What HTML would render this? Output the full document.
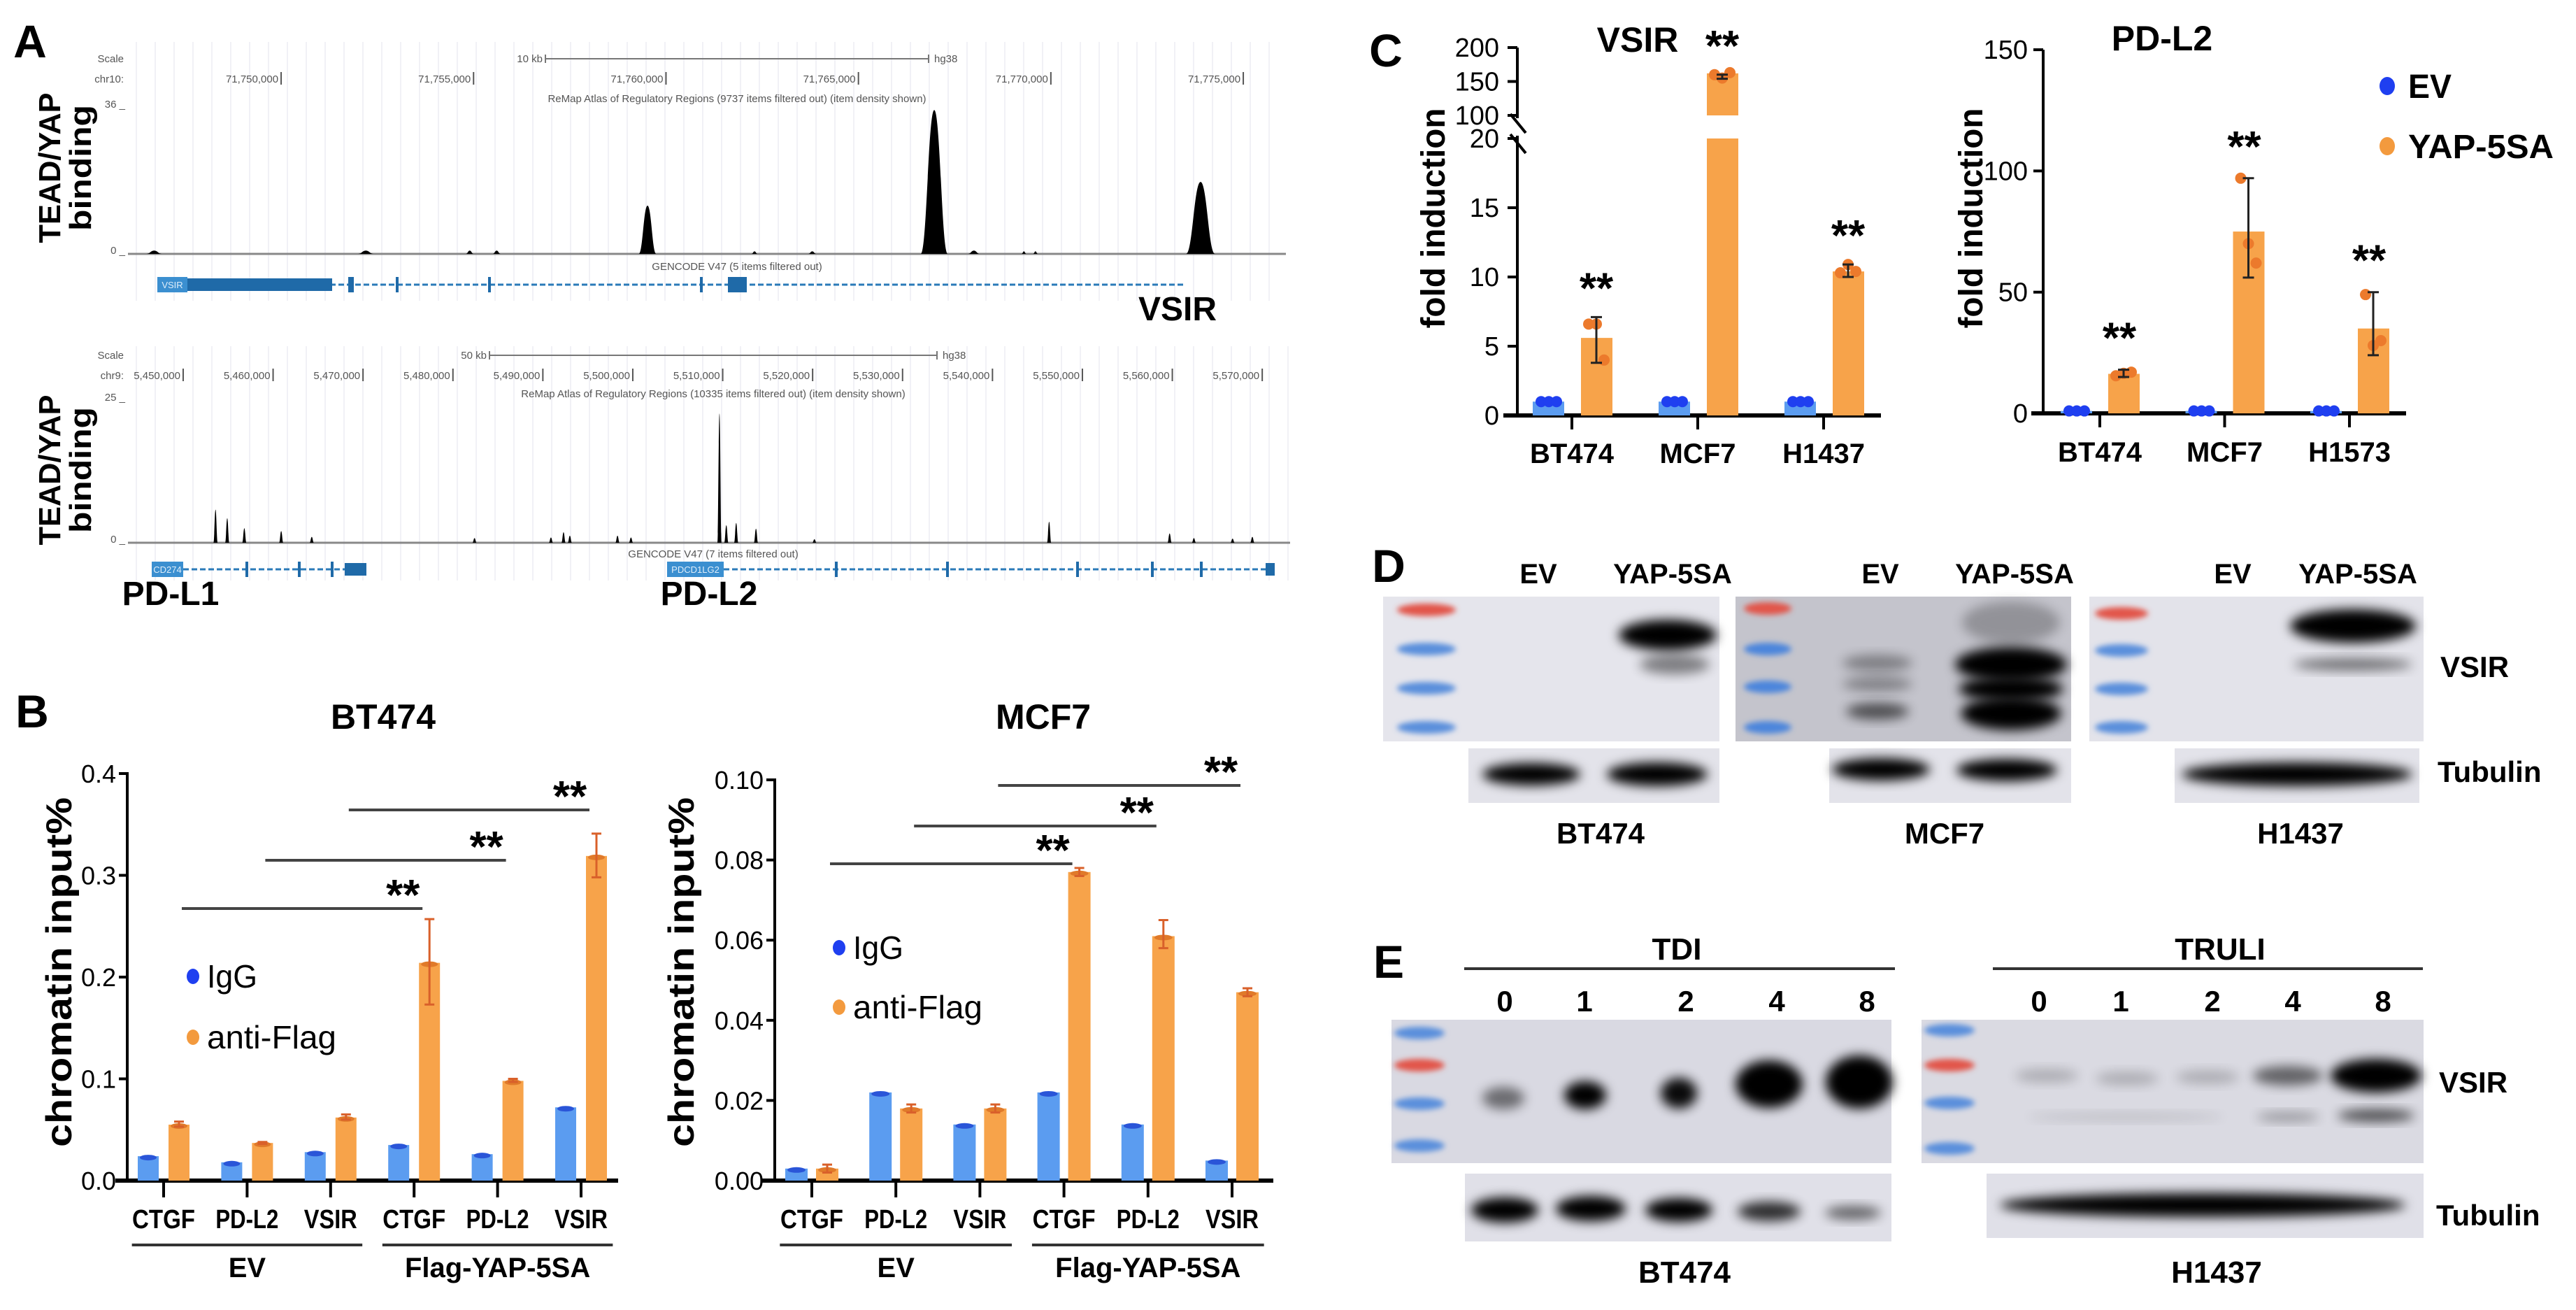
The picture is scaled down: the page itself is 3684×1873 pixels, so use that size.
<!DOCTYPE html>
<html><head><meta charset="utf-8"><style>
html,body{margin:0;padding:0;background:#fff;}
svg{display:block;font-family:"Liberation Sans",sans-serif;}
</style></head><body>
<svg id="fig" width="3684" height="1873" viewBox="0 0 3684 1873" xmlns="http://www.w3.org/2000/svg">
<defs>
<filter id="bl" x="-50%" y="-50%" width="200%" height="200%"><feGaussianBlur stdDeviation="8"/></filter>
<filter id="bl2" x="-50%" y="-50%" width="200%" height="200%"><feGaussianBlur stdDeviation="4"/></filter>
</defs>
</svg>
<script>
// ===== Data =====
// Panel A: genome tracks (genomic positions in kb, heights in track units)
const vsirPeakPosKb = [71759.52, 71766.97, 71773.89, 71746.7, 71752.2, 71754.9, 71755.6, 71762.3, 71763.8, 71768.0, 71769.3, 71769.6];
const vsirPeakHeight = [11.6, 34.6, 17.3, 0.8, 0.8, 0.8, 0.8, 0.6, 0.6, 0.8, 0.6, 0.6];
const vsirPeakWidthKb = [0.45, 0.7, 0.75, 0.4, 0.4, 0.2, 0.2, 0.15, 0.2, 0.3, 0.12, 0.12];
const vsirTickLabels = ['71,750,000','71,755,000','71,760,000','71,765,000','71,770,000','71,775,000'];
const vsirTickKb = [71750, 71755, 71760, 71765, 71770, 71775];
const pdPeakPosKb = [5453.6, 5454.9, 5456.8, 5460.9, 5464.3, 5482.4, 5490.9, 5492.3, 5493.0, 5498.3, 5499.8, 5509.64, 5510.4, 5511.5, 5513.7, 5520.2, 5546.3, 5559.7, 5562.4, 5566.7, 5568.9];
const pdPeakHeight = [5.7, 4.2, 2.5, 2.0, 1.0, 0.8, 0.9, 1.8, 1.2, 1.2, 0.9, 22.2, 3.0, 3.4, 2.4, 0.6, 3.6, 1.6, 0.8, 0.7, 1.0];
const pdTickLabels = ['5,450,000','5,460,000','5,470,000','5,480,000','5,490,000','5,500,000','5,510,000','5,520,000','5,530,000','5,540,000','5,550,000','5,560,000','5,570,000'];
const pdTickKb = [5450,5460,5470,5480,5490,5500,5510,5520,5530,5540,5550,5560,5570];

// Panel B: ChIP-qPCR
const chipCats = ['CTGF','PD-L2','VSIR','CTGF','PD-L2','VSIR'];
const chipGroups = ['EV','Flag-YAP-5SA'];
const bt474IgG = [0.024, 0.018, 0.028, 0.035, 0.026, 0.072];
const bt474Flag = [0.055, 0.037, 0.062, 0.214, 0.098, 0.319];
const bt474FlagLo = [0.053, 0.036, 0.060, 0.173, 0.097, 0.298];
const bt474FlagHi = [0.058, 0.038, 0.065, 0.257, 0.100, 0.341];
const bt474Ticks = [0, 0.1, 0.2, 0.3, 0.4];
const bt474TickLabels = ['0.0','0.1','0.2','0.3','0.4'];
const mcf7IgG = [0.003, 0.022, 0.014, 0.022, 0.014, 0.005];
const mcf7Flag = [0.003, 0.018, 0.018, 0.077, 0.061, 0.047];
const mcf7FlagLo = [0.002, 0.017, 0.017, 0.076, 0.058, 0.046];
const mcf7FlagHi = [0.004, 0.019, 0.019, 0.078, 0.065, 0.048];
const mcf7Ticks = [0, 0.02, 0.04, 0.06, 0.08, 0.10];
const mcf7TickLabels = ['0.00','0.02','0.04','0.06','0.08','0.10'];

// Panel C: fold induction
const vsirCats = ['BT474','MCF7','H1437'];
const vsirEV = [1, 1, 1];
const vsirYAP = [5.6, 162, 10.4];
const vsirYAPLo = [3.8, 154, 10.0];
const vsirYAPHi = [7.1, 160, 10.9];
const vsirYAPReps = [[6.6, 6.6, 4.0], [160, 155, 163], [10.3, 10.9, 10.4]];
const vsirLowTicks = [0, 5, 10, 15, 20];
const vsirHighTicks = [100, 150, 200];
const pdl2Cats = ['BT474','MCF7','H1573'];
const pdl2EV = [1, 1, 1];
const pdl2YAP = [16.3, 75, 35];
const pdl2YAPLo = [15, 56, 24];
const pdl2YAPHi = [18, 97, 50];
const pdl2YAPReps = [[15.5, 16.5, 17], [97, 70, 62], [49, 28, 30]];
const pdl2Ticks = [0, 50, 100, 150];

// ===== Helpers =====
const NS = 'http://www.w3.org/2000/svg';
const svg = document.getElementById('fig');
function mk(tag, a, p) { const e = document.createElementNS(NS, tag); for (const k in a) e.setAttribute(k, a[k]); (p || svg).appendChild(e); return e; }
function tx(str, a, p) { const e = mk('text', a, p); e.textContent = str; return e; }
function grp(name, p) { const g = mk('g', {}, p);   return g; }
const BLUE_BAR = '#5b9cf0', ORANGE_BAR = '#f7a34a', BLUE_DOT = '#1f3ff0', ORANGE_DOT = '#ec7a2c';

// ===== Panel letters =====
[['A',43,82],['B',46,1040],['C',1982,95],['D',1986,832],['E',1986,1398]].forEach(d => {
  const t = tx(d[0], {x: d[1], y: d[2], 'font-size': 66, 'font-weight': 'bold', 'text-anchor': 'middle'});
  
  
});

// ===== Panel A =====
function genomeTrack(o) {
  const g = grp(o.name);
  // faint vertical grid
  for (let x = o.x0 + 12; x < o.x1; x += 27) {
    const l = mk('line', {x1: x, x2: x, y1: o.gridTop, y2: o.gridBot, stroke: '#f1f1f6', 'stroke-width': 2}, g);
    
    
  }
  const xs = kb => o.x0 + (kb - o.kb0) * o.pxPerKb;
  const ys = v => o.base - v / o.ymax * (o.base - o.top);
  const small = {fill: '#555', 'font-size': 15};
  let t = tx('Scale', Object.assign({x: o.x0 - 6, y: o.scaleY + 5, 'text-anchor': 'end'}, small), g);
   
  t = tx(o.chr, Object.assign({x: o.x0 - 6, y: o.chrY + 5, 'text-anchor': 'end'}, small), g);
   
  t = tx(String(o.ymax) + ' _', Object.assign({x: o.x0 - 4, y: o.top + 5, 'text-anchor': 'end'}, small), g);
   
  t = tx('0 _', Object.assign({x: o.x0 - 4, y: o.base, 'text-anchor': 'end'}, small), g);
   
  // scale bar
  const sb = mk('path', {d: `M${o.sb0},${o.scaleY-6}V${o.scaleY+6}M${o.sb0},${o.scaleY}H${o.sb1}M${o.sb1},${o.scaleY-6}V${o.scaleY+6}`, stroke: '#777', 'stroke-width': 2, fill: 'none'}, g);
   
  t = tx(o.sbLabel, Object.assign({x: o.sb0 - 4, y: o.scaleY + 5, 'text-anchor': 'end'}, small), g);
   
  t = tx('hg38', Object.assign({x: o.sb1 + 8, y: o.scaleY + 5}, small), g);
   
  o.tickKb.forEach((kb, i) => {
    const x = xs(kb);
    const tk = mk('line', {x1: x, x2: x, y1: o.chrY - 10, y2: o.chrY + 8, stroke: '#555', 'stroke-width': 2}, g);
     
    const tl = tx(o.tickLabels[i], Object.assign({x: x - 4, y: o.chrY + 5, 'text-anchor': 'end'}, small), g);
     
  });
  t = tx(o.remap, Object.assign({x: o.labelX, y: o.remapY + 5, 'text-anchor': 'middle'}, small), g);
   
  // baseline
  const bl = mk('line', {x1: o.x0, x2: o.x1, y1: o.base, y2: o.base, stroke: '#888', 'stroke-width': 3}, g);
   
  // peaks
  o.pos.forEach((kb, i) => {
    const cx = xs(kb), h = ys(o.h[i]);
    const w = Math.max(3, (o.w ? o.w[i] : 0.12) * o.pxPerKb / 2);
    const p = mk('path', {d: `M${cx-w},${o.base} C${cx-w*0.55},${o.base} ${cx-w*0.45},${h} ${cx},${h} C${cx+w*0.45},${h} ${cx+w*0.55},${o.base} ${cx+w},${o.base} Z`, fill: '#000'}, g);
     
  });
  t = tx('GENCODE V47 (' + o.gencode + ')', Object.assign({x: o.labelX, y: o.gencodeY + 5, 'text-anchor': 'middle'}, small), g);
   
  return g;
}
const trackTop = genomeTrack({name: 'vsir-track', x0: 183, x1: 1839, kb0: 71746.02, pxPerKb: 55.04, base: 363, top: 149, ymax: 36,
  gridTop: 60, gridBot: 430, scaleY: 84, chrY: 113, remapY: 141, gencodeY: 381, labelX: 1054, chr: 'chr10:', sb0: 780, sb1: 1328, sbLabel: '10 kb',
  tickKb: vsirTickKb, tickLabels: vsirTickLabels, remap: 'ReMap Atlas of Regulatory Regions (9737 items filtered out) (item density shown)',
  gencode: '5 items filtered out', pos: vsirPeakPosKb, h: vsirPeakHeight, w: vsirPeakWidthKb});
const trackBot = genomeTrack({name: 'pdl-track', x0: 183, x1: 1845, kb0: 5443.86, pxPerKb: 12.86, base: 776, top: 568, ymax: 25,
  gridTop: 495, gridBot: 830, scaleY: 508, chrY: 537, remapY: 563, gencodeY: 792, labelX: 1020, chr: 'chr9:', sb0: 700, sb1: 1340, sbLabel: '50 kb',
  tickKb: pdTickKb, tickLabels: pdTickLabels, remap: 'ReMap Atlas of Regulatory Regions (10335 items filtered out) (item density shown)',
  gencode: '7 items filtered out', pos: pdPeakPosKb, h: pdPeakHeight, w: null});

// gene models
function gene(name, y, x0, x1, boxes, ticks, label, lx, lw) {
  const g = grp(name);
  const ln = mk('line', {x1: x0, x2: x1, y1: y, y2: y, stroke: '#2a7ab8', 'stroke-width': 3, 'stroke-dasharray': '8 4'}, g);
   
  boxes.forEach(b => {
    const r = mk('rect', {x: b[0], y: y - b[2] / 2, width: b[1] - b[0], height: b[2], fill: '#1f6aa8'}, g);
     
  });
  ticks.forEach(x => {
    const r = mk('rect', {x: x - 2, y: y - 11, width: 4, height: 22, fill: '#1f6aa8'}, g);
     
  });
  const lb = mk('rect', {x: lx, y: y - 11, width: lw, height: 22, fill: '#3b8fd0'}, g);
   
  const t = tx(label, {x: lx + lw / 2, y: y + 5, 'font-size': 13, fill: '#dfeefa', 'text-anchor': 'middle'}, g);
   
}
gene('vsir-gene-model', 407, 268, 1693, [[268,475,18],[498,506,22],[1041,1068,22]], [568, 700, 1003], 'VSIR', 225, 43);
gene('cd274-gene-model', 814, 262, 524, [[493,524,18]], [353, 428, 475], 'CD274', 217, 45);
gene('pdcd1lg2-gene-model', 814, 1035, 1821, [[1810,1823,18]], [1196, 1355, 1541, 1648, 1718], 'PDCD1LG2', 954, 81);

[['VSIR',1684,458,'gene-label-vsir'],['PD-L1',244,865,'gene-label-pdl1'],['PD-L2',1014,865,'gene-label-pdl2']].forEach(d => {
  const t = tx(d[0], {x: d[1], y: d[2], 'font-size': 48, 'font-weight': 'bold', 'text-anchor': 'middle'});
   
});
[[240,'tead-yap-axis-title-top'],[672,'tead-yap-axis-title-bottom']].forEach(d => {
  const g = mk('g', {transform: `translate(0,${d[0]}) rotate(-90)`});
   
  let t = tx('TEAD/YAP', {x: 0, y: 86, 'font-size': 44, 'font-weight': 'bold', 'text-anchor': 'middle', textLength: 215, lengthAdjust: 'spacingAndGlyphs'}, g);
   
  t = tx('binding', {x: 0, y: 130, 'font-size': 44, 'font-weight': 'bold', 'text-anchor': 'middle', textLength: 180, lengthAdjust: 'spacingAndGlyphs'}, g);
   
});

// ===== Panel B =====
function chipChart(o) {
  const g = grp(o.name);
  const ys = v => o.y0 - v / o.ymax * (o.y0 - o.yTop);
  const xc = i => o.cx0 + i * o.step;
  let t = tx(o.title, {x: o.titleX, y: 1042, 'font-size': 50, 'font-weight': 'bold', 'text-anchor': 'middle'}, g);
   
  const ax = mk('line', {x1: o.ax, x2: o.ax, y1: ys(o.ticks[o.ticks.length-1]) - 2, y2: o.y0, stroke: '#000', 'stroke-width': 4}, g);
   
  o.ticks.forEach((v, i) => {
    const y = ys(v);
    const tk = mk('line', {x1: o.ax - 12, x2: o.ax, y1: y, y2: y, stroke: '#000', 'stroke-width': 4}, g);
     
    const tl = tx(o.tickLabels[i], {x: o.ax - 16, y: y + 13, 'font-size': 36, 'text-anchor': 'end'}, g);
     
  });
  const xa = mk('line', {x1: o.xa0, x2: o.xa1, y1: o.y0, y2: o.y0, stroke: '#000', 'stroke-width': 6}, g);
   
  o.cats.forEach((c, i) => {
    const x = xc(i);
    const tk = mk('line', {x1: x, x2: x, y1: o.y0, y2: o.y0 + 24, stroke: '#000', 'stroke-width': 4}, g);
     
    const tl = tx(c, {x: x, y: 1756, 'font-size': 38, 'font-weight': 'bold', 'text-anchor': 'middle', textLength: c === 'VSIR' ? 76 : 90, lengthAdjust: 'spacingAndGlyphs'}, g);
     
    // IgG bar
    const yi = ys(o.igg[i]);
    const b1 = mk('rect', {x: x - o.off - o.bw / 2, y: yi, width: o.bw, height: o.y0 - yi, fill: BLUE_BAR}, g);
     
    const d1 = mk('ellipse', {cx: x - o.off, cy: yi + 2, rx: o.bw / 2 - 3, ry: 4, fill: '#2a55d8'}, g);
     
    // Flag bar
    const yf = ys(o.flag[i]);
    const b2 = mk('rect', {x: x + o.off - o.bw / 2, y: yf, width: o.bw, height: o.y0 - yf, fill: ORANGE_BAR}, g);
     
    const d2 = mk('ellipse', {cx: x + o.off, cy: yf + 2, rx: o.bw / 2 - 3, ry: 4, fill: '#e07a2a'}, g);
     
    const eb = mk('path', {d: `M${x+o.off},${ys(o.lo[i])}V${ys(o.hi[i])}M${x+o.off-7},${ys(o.hi[i])}H${x+o.off+7}M${x+o.off-7},${ys(o.lo[i])}H${x+o.off+7}`, stroke: '#d9602a', 'stroke-width': 3, fill: 'none'}, g);
     
  });
  // group brackets
  chipGroups.forEach((gn, k) => {
    const xa = xc(k * 3) - o.step * 0.38, xb = xc(k * 3 + 2) + o.step * 0.38;
    const l = mk('line', {x1: xa, x2: xb, y1: 1780, y2: 1780, stroke: '#333', 'stroke-width': 4}, g);
     
    const tl = tx(gn, {x: (xa + xb) / 2, y: 1826, 'font-size': 40, 'font-weight': 'bold', 'text-anchor': 'middle'}, g);
     
  });
  // significance lines
  o.sigY.forEach((y, k) => {
    const xa = xc(k) + 26, xb = xc(k + 3) + 12;
    const l = mk('line', {x1: xa, x2: xb, y1: y, y2: y, stroke: '#444', 'stroke-width': 4}, g);
     
    const s = tx('**', {x: xb - 28, y: y + 2, 'font-size': 62, 'font-weight': 'bold', 'text-anchor': 'middle'}, g);
     
  });
  // legend
  [[BLUE_DOT, 'IgG', o.legY[0], 'legend-igg'], ['#f39a3e', 'anti-Flag', o.legY[1], 'legend-anti-flag']].forEach(d => {
    const lg = grp(d[3], g);
    const c = mk('ellipse', {cx: o.legX, cy: d[2], rx: 9, ry: 11, fill: d[0]}, lg);
     
    const tl = tx(d[1], {x: o.legX + 20, y: d[2] + 16, 'font-size': 46, textLength: d[1] === 'IgG' ? 72 : 185, lengthAdjust: 'spacingAndGlyphs'}, lg);
     
  });
  const yl = tx('chromatin input%', {x: 0, y: 0, 'font-size': 52, 'font-weight': 'bold', 'text-anchor': 'middle', textLength: 500, lengthAdjust: 'spacingAndGlyphs', transform: `translate(${o.ylx},1390) rotate(-90)`}, g);
   
}
chipChart({name: 'chip-chart-bt474', title: 'BT474', titleX: 548, ax: 182, y0: 1688, yTop: 1106, ymax: 0.4, ticks: bt474Ticks, tickLabels: bt474TickLabels,
  xa0: 165, xa1: 884, cx0: 234, step: 119.4, off: 22, bw: 30, cats: chipCats, igg: bt474IgG, flag: bt474Flag, lo: bt474FlagLo, hi: bt474FlagHi,
  sigY: [1299, 1230, 1158], legX: 276, legY: [1396, 1483], ylx: 102});
chipChart({name: 'chip-chart-mcf7', title: 'MCF7', titleX: 1492, ax: 1108, y0: 1688, yTop: 1115, ymax: 0.10, ticks: mcf7Ticks, tickLabels: mcf7TickLabels,
  xa0: 1090, xa1: 1821, cx0: 1161, step: 120.2, off: 22, bw: 32, cats: chipCats, igg: mcf7IgG, flag: mcf7Flag, lo: mcf7FlagLo, hi: mcf7FlagHi,
  sigY: [1235, 1181, 1123], legX: 1200, legY: [1355, 1440], ylx: 992});

// ===== Panel C =====
function drawPoints(g, x, vals, ys, color, name) {
  vals.forEach((v, k) => {
    const c = mk('circle', {cx: x + (k - 1) * 11, cy: ys(v), r: 8, fill: color}, g);
     
  });
}
// VSIR broken axis
(function () {
  const g = grp('fold-chart-vsir');
  const y0 = 594;
  const ys = v => v <= 20 ? y0 - v * 19.8 : 165 - (v - 100) * 0.97;
  const xc = i => 2248 + i * 180;
  let t = tx('VSIR', {x: 2342, y: 74, 'font-size': 50, 'font-weight': 'bold', 'text-anchor': 'middle'}, g);
   
  let a = mk('line', {x1: 2170, x2: 2170, y1: ys(20) - 4, y2: y0, stroke: '#000', 'stroke-width': 4}, g);
   
  a = mk('line', {x1: 2170, x2: 2170, y1: ys(200), y2: ys(100) + 4, stroke: '#000', 'stroke-width': 4}, g);
   
  a = mk('path', {d: 'M2160,163 L2182,190 M2160,192 L2182,219', stroke: '#000', 'stroke-width': 4, fill: 'none'}, g);
   
  vsirLowTicks.concat(vsirHighTicks).forEach(v => {
    const y = ys(v);
    const tk = mk('line', {x1: 2156, x2: 2170, y1: y, y2: y, stroke: '#000', 'stroke-width': 4}, g);
     
    const tl = tx(String(v), {x: 2144, y: y + 13, 'font-size': 38, 'text-anchor': 'end'}, g);
     
  });
  a = mk('line', {x1: 2150, x2: 2690, y1: y0, y2: y0, stroke: '#000', 'stroke-width': 6}, g);
   
  vsirCats.forEach((c, i) => {
    const x = xc(i);
    const tk = mk('line', {x1: x, x2: x, y1: y0, y2: y0 + 20, stroke: '#000', 'stroke-width': 4}, g);
     
    const tl = tx(c, {x: x, y: 662, 'font-size': 40, 'font-weight': 'bold', 'text-anchor': 'middle'}, g);
     
    const ye = ys(vsirEV[i]);
    const be = mk('rect', {x: x - 56, y: ye, width: 45, height: y0 - ye, fill: BLUE_BAR}, g);
     
    drawPoints(g, x - 33, [vsirEV[i], vsirEV[i], vsirEV[i]], ys, BLUE_DOT, 'ev-point');
    const v = vsirYAP[i], bx = x + 13;
    if (v > 20) {
      const r1 = mk('rect', {x: bx, y: ys(20), width: 45, height: y0 - ys(20), fill: ORANGE_BAR}, g);
       
      const r2 = mk('rect', {x: bx, y: ys(v), width: 45, height: ys(100) - ys(v), fill: ORANGE_BAR}, g);
       
    } else {
      const r = mk('rect', {x: bx, y: ys(v), width: 45, height: y0 - ys(v), fill: ORANGE_BAR}, g);
       
    }
    drawPoints(g, bx + 22, vsirYAPReps[i], ys, ORANGE_DOT, 'yap-point');
    const ex = bx + 22;
    const eb = mk('path', {d: `M${ex},${ys(vsirYAPLo[i])}V${ys(vsirYAPHi[i])}M${ex-8},${ys(vsirYAPHi[i])}H${ex+8}M${ex-8},${ys(vsirYAPLo[i])}H${ex+8}`, stroke: '#222', 'stroke-width': 3, fill: 'none'}, g);
     
    const s = tx('**', {x: ex, y: ys(vsirYAPHi[i]) - 20, 'font-size': 62, 'font-weight': 'bold', 'text-anchor': 'middle'}, g);
     
  });
  const yl = tx('fold induction', {x: 0, y: 0, 'font-size': 48, 'font-weight': 'bold', 'text-anchor': 'middle', textLength: 315, lengthAdjust: 'spacingAndGlyphs', transform: 'translate(2066,312) rotate(-90)'}, g);
   
})();
// PD-L2
(function () {
  const g = grp('fold-chart-pdl2');
  const y0 = 591;
  const ys = v => y0 - v * 3.466;
  const xc = i => 3003 + i * 178.5;
  let t = tx('PD-L2', {x: 3092, y: 72, 'font-size': 50, 'font-weight': 'bold', 'text-anchor': 'middle'}, g);
   
  let a = mk('line', {x1: 2922, x2: 2922, y1: ys(150), y2: y0, stroke: '#000', 'stroke-width': 4}, g);
   
  pdl2Ticks.forEach(v => {
    const y = ys(v);
    const tk = mk('line', {x1: 2908, x2: 2922, y1: y, y2: y, stroke: '#000', 'stroke-width': 4}, g);
     
    const tl = tx(String(v), {x: 2900, y: y + 13, 'font-size': 38, 'text-anchor': 'end'}, g);
     
  });
  a = mk('line', {x1: 2905, x2: 3441, y1: y0, y2: y0, stroke: '#000', 'stroke-width': 6}, g);
   
  pdl2Cats.forEach((c, i) => {
    const x = xc(i);
    const tk = mk('line', {x1: x, x2: x, y1: y0, y2: y0 + 20, stroke: '#000', 'stroke-width': 4}, g);
     
    const tl = tx(c, {x: x, y: 660, 'font-size': 40, 'font-weight': 'bold', 'text-anchor': 'middle'}, g);
     
    const ye = ys(pdl2EV[i]);
    const be = mk('rect', {x: x - 56, y: ye, width: 45, height: y0 - ye, fill: BLUE_BAR}, g);
     
    drawPoints(g, x - 33, [pdl2EV[i], pdl2EV[i], pdl2EV[i]], ys, BLUE_DOT, 'ev-point');
    const bx = x + 12, yv = ys(pdl2YAP[i]);
    const r = mk('rect', {x: bx, y: yv, width: 45, height: y0 - yv, fill: ORANGE_BAR}, g);
     
    const ex = bx + 22;
    drawPoints(g, ex, pdl2YAPReps[i], ys, ORANGE_DOT, 'yap-point');
    const eb = mk('path', {d: `M${ex},${ys(pdl2YAPLo[i])}V${ys(pdl2YAPHi[i])}M${ex-8},${ys(pdl2YAPHi[i])}H${ex+8}M${ex-8},${ys(pdl2YAPLo[i])}H${ex+8}`, stroke: '#222', 'stroke-width': 3, fill: 'none'}, g);
     
    const s = tx('**', {x: ex - 6, y: ys(pdl2YAPHi[i]) - 24, 'font-size': 62, 'font-weight': 'bold', 'text-anchor': 'middle'}, g);
     
  });
  [[BLUE_DOT, 'EV', 123, 'legend-ev'], ['#f39a3e', 'YAP-5SA', 209, 'legend-yap-5sa']].forEach(d => {
    const lg = grp(d[3], g);
    const c = mk('ellipse', {cx: 3414, cy: d[2], rx: 11, ry: 13, fill: d[0]}, lg);
     
    const tl = tx(d[1], {x: 3444, y: d[2] + 17, 'font-size': 48, 'font-weight': 'bold', textLength: d[1] === 'EV' ? 62 : 208, lengthAdjust: 'spacingAndGlyphs'}, lg);
     
  });
  const yl = tx('fold induction', {x: 0, y: 0, 'font-size': 48, 'font-weight': 'bold', 'text-anchor': 'middle', textLength: 315, lengthAdjust: 'spacingAndGlyphs', transform: 'translate(2835,312) rotate(-90)'}, g);
   
})();

// ===== Blots (D, E) =====
function blotBox(name, x, y, w, h, fill, p) {
  const r = mk('rect', {x: x, y: y, width: w, height: h, fill: fill}, p);
   
  return r;
}
function band(cx, cy, rx, ry, op, p, name, blur) {
  const e = mk('ellipse', {cx: cx, cy: cy, rx: rx, ry: ry, fill: '#000', opacity: op, filter: blur || 'url(#bl)'}, p);
   
}
function ladder(x, w, ys, colors, p) {
  ys.forEach((y, i) => {
    const e = mk('ellipse', {cx: x, cy: y, rx: w, ry: 9, fill: colors[i], filter: 'url(#bl2)'}, p);
     
  });
}
function lbl(str, x, y, size, name, anchor) {
  const t = tx(str, {x: x, y: y, 'font-size': size, 'font-weight': 'bold', 'text-anchor': anchor || 'middle'});
   
}
(function () {
  const g = grp('panel-d-blots');
  // blot 1
  blotBox('vsir-blot-bt474', 1978, 853, 481, 207, '#e5e5ec', g);
  ladder(2040, 42, [872, 928, 984, 1040], ['#e2554a', '#5a8fdc', '#5a8fdc', '#5a8fdc'], g);
  band(2385, 908, 70, 22, 1, g); band(2395, 950, 50, 14, 0.45, g);
  blotBox('tubulin-blot-bt474', 2100, 1070, 359, 78, '#e3e3ea', g);
  band(2190, 1107, 70, 16, 1, g); band(2370, 1107, 72, 17, 1, g);
  // blot 2
  blotBox('vsir-blot-mcf7', 2482, 853, 480, 207, '#c4c4cc', g);
  ladder(2528, 34, [870, 928, 982, 1040], ['#e2554a', '#4b85dc', '#4b85dc', '#4b85dc'], g);
  band(2685, 948, 50, 12, 0.35, g); band(2685, 978, 50, 10, 0.35, g); band(2685, 1017, 45, 12, 0.6, g);
  band(2876, 950, 80, 25, 1, g); band(2876, 985, 75, 18, 1, g); band(2876, 1020, 72, 24, 1, g); band(2876, 890, 70, 30, 0.25, g);
  blotBox('tubulin-blot-mcf7', 2616, 1070, 346, 78, '#e3e3ea', g);
  band(2690, 1100, 70, 16, 1, g); band(2870, 1101, 72, 16, 1, g);
  // blot 3
  blotBox('vsir-blot-h1437', 2988, 853, 478, 207, '#e3e3ea', g);
  ladder(3034, 38, [877, 930, 985, 1040], ['#e2554a', '#5a8fdc', '#5a8fdc', '#5a8fdc'], g);
  band(3365, 895, 90, 24, 1, g); band(3365, 950, 85, 9, 0.5, g);
  blotBox('tubulin-blot-h1437', 3110, 1070, 350, 78, '#e3e3ea', g);
  band(3285, 1107, 165, 17, 1, g);
  [['EV',2200],['YAP-5SA',2392],['EV',2689],['YAP-5SA',2881],['EV',3193],['YAP-5SA',3372]].forEach(d => lbl(d[0], d[1], 834, 40, 'lane-label'));
  lbl('VSIR', 3490, 968, 42, 'protein-label-vsir', 'start');
  lbl('Tubulin', 3486, 1118, 42, 'protein-label-tubulin', 'start');
  lbl('BT474', 2289, 1206, 42, 'cell-line-label'); lbl('MCF7', 2781, 1206, 42, 'cell-line-label'); lbl('H1437', 3290, 1206, 42, 'cell-line-label');
})();
(function () {
  const g = grp('panel-e-blots');
  lbl('TDI', 2398, 1372, 44, 'treatment-label-tdi'); lbl('TRULI', 3175, 1372, 44, 'treatment-label-truli');
  let l = mk('line', {x1: 2094, x2: 2710, y1: 1385, y2: 1385, stroke: '#333', 'stroke-width': 4}, g);
   
  l = mk('line', {x1: 2850, x2: 3465, y1: 1385, y2: 1385, stroke: '#333', 'stroke-width': 4}, g);
   
  [['0',2152],['1',2266],['2',2411],['4',2541],['8',2670],['0',2916],['1',3033],['2',3164],['4',3279],['8',3408]].forEach(d => lbl(d[0], d[1], 1446, 42, 'dose-label'));
  blotBox('vsir-blot-tdi', 1990, 1458, 715, 205, '#d9d9e2', g);
  ladder(2030, 36, [1477, 1523, 1578, 1638], ['#5a8fdc', '#e2554a', '#5a8fdc', '#5a8fdc'], g);
  band(2150, 1570, 30, 16, 0.5, g); band(2267, 1566, 30, 20, 1, g); band(2401, 1563, 26, 22, 0.95, g);
  band(2530, 1550, 48, 34, 1, g); band(2659, 1547, 48, 38, 1, g);
  blotBox('tubulin-blot-tdi', 2095, 1678, 610, 97, '#e0e0e8', g);
  band(2152, 1730, 48, 18, 1, g); band(2275, 1728, 50, 18, 1, g); band(2401, 1730, 48, 17, 1, g); band(2530, 1732, 45, 14, 0.8, g); band(2650, 1734, 40, 10, 0.55, g);
  blotBox('vsir-blot-truli', 2748, 1458, 718, 205, '#dadae2', g);
  ladder(2788, 36, [1473, 1523, 1577, 1642], ['#5a8fdc', '#e2554a', '#5a8fdc', '#5a8fdc'], g);
  band(2927, 1538, 45, 10, 0.2, g); band(3042, 1542, 45, 10, 0.2, g); band(3157, 1540, 45, 10, 0.2, g);
  band(3272, 1538, 50, 14, 0.55, g); band(3398, 1538, 65, 24, 1, g);
  band(3040, 1597, 140, 6, 0.12, g); band(3272, 1597, 45, 7, 0.3, g); band(3398, 1595, 55, 9, 0.65, g);
  blotBox('tubulin-blot-truli', 2841, 1678, 625, 92, '#e0e0e8', g);
  band(3150, 1723, 290, 17, 1, g);
  lbl('VSIR', 3488, 1562, 42, 'protein-label-vsir', 'start');
  lbl('Tubulin', 3484, 1752, 42, 'protein-label-tubulin', 'start');
  lbl('BT474', 2409, 1834, 44, 'cell-line-label'); lbl('H1437', 3170, 1834, 44, 'cell-line-label');
})();
</script>
</body></html>
